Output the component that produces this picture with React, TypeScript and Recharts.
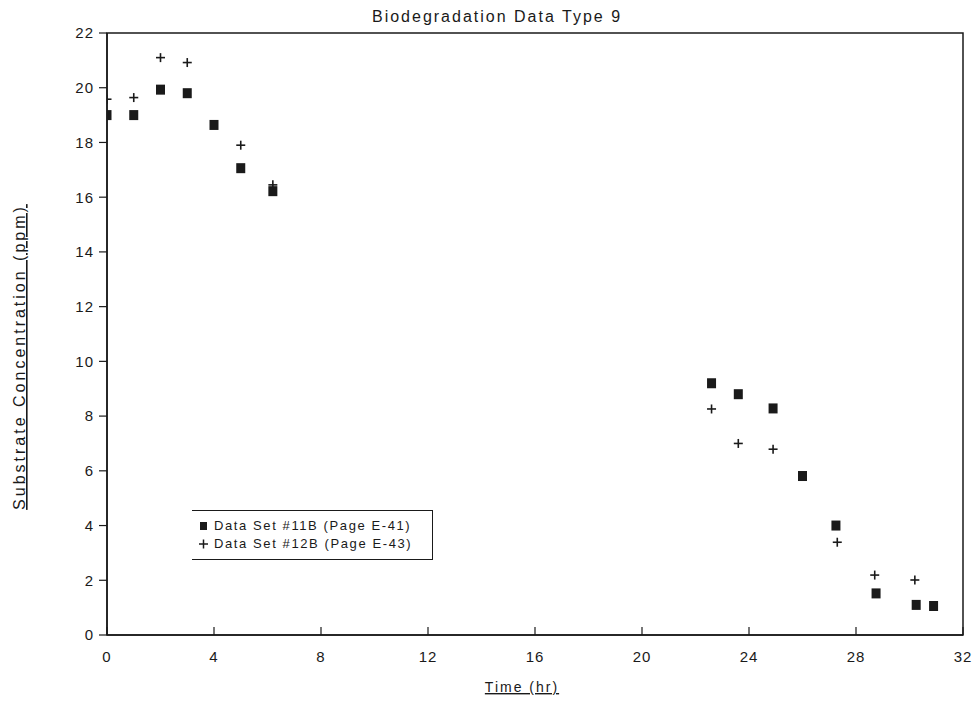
import React from "react";
import {
  ScatterChart,
  Scatter,
  XAxis,
  YAxis,
  ReferenceArea,
  Legend,
} from "recharts";

const set11B_x = [0, 1, 2, 3, 4, 5, 6.2, 22.6, 23.6, 24.9, 26, 27.25, 28.75, 30.25, 30.9];
const set11B_y = [19.0, 19.0, 19.93, 19.8, 18.64, 17.06, 16.22, 9.2, 8.8, 8.28, 5.81, 4.0, 1.52, 1.1, 1.06];

const set12B_x = [0, 1, 2, 3, 5, 6.2, 22.6, 23.6, 24.9, 27.3, 28.7, 30.2];
const set12B_y = [19.58, 19.64, 21.1, 20.92, 17.9, 16.45, 8.26, 7.0, 6.79, 3.39, 2.19, 2.01];

const xTicks = [0, 4, 8, 12, 16, 20, 24, 28, 32];
const yTicks = [0, 2, 4, 6, 8, 10, 12, 14, 16, 18, 20, 22];

const seriesNames = ["Data Set #11B (Page E-41)", "Data Set #12B (Page E-43)"];
const titleText = "Biodegradation Data Type 9";
const xLabel = "Time (hr)";
const yLabel = "Substrate Concentration (ppm)";

const data11 = set11B_x.map((x, i) => ({ x, y: set11B_y[i] }));
const data12 = set12B_x.map((x, i) => ({ x, y: set12B_y[i] }));

const INK = "#1a1a1a";
const FONT = "'Liberation Sans', Arial, sans-serif";

const SquareShape = (props: any) => {
  const { cx, cy } = props;
  if (cx == null || cy == null) return null;
  return <rect x={cx - 4.5} y={cy - 5} width={9} height={10} fill={INK} />;
};

const PlusShape = (props: any) => {
  const { cx, cy } = props;
  if (cx == null || cy == null) return null;
  return (
    <g stroke={INK} strokeWidth={1.6}>
      <line x1={cx - 4.5} y1={cy} x2={cx + 4.5} y2={cy} />
      <line x1={cx} y1={cy - 4.5} x2={cx} y2={cy + 4.5} />
    </g>
  );
};

const XTick = (props: any) => {
  const { x, y, payload } = props;
  return (
    <g>
      <line x1={x} y1={y} x2={x} y2={y - 8} stroke={INK} strokeWidth={1.2} />
      <text
        x={x}
        y={y + 27}
        textAnchor="middle"
        fontSize={15}
        fill={INK}
        fontFamily={FONT}
        letterSpacing={1}
      >
        {payload.value}
      </text>
    </g>
  );
};

const LegendBox = () => (
  <div
    style={{
      width: 241,
      height: 50,
      borderTop: `1.5px solid ${INK}`,
      borderBottom: `1.5px solid ${INK}`,
      borderRight: `1.5px solid ${INK}`,
      fontFamily: FONT,
      fontSize: 13,
      color: INK,
      boxSizing: "border-box",
      paddingTop: 6,
      paddingLeft: 6,
      lineHeight: "18px",
      letterSpacing: 1.6,
      whiteSpace: "nowrap",
    }}
  >
    <div style={{ display: "flex", alignItems: "center" }}>
      <svg width={12} height={12}>
        <rect x={2} y={2} width={7} height={8} fill={INK} />
      </svg>
      <span style={{ marginLeft: 4 }}>{seriesNames[0]}</span>
    </div>
    <div style={{ display: "flex", alignItems: "center" }}>
      <svg width={12} height={12}>
        <line x1={1} y1={6} x2={10} y2={6} stroke={INK} strokeWidth={1.5} />
        <line x1={5.5} y1={1.5} x2={5.5} y2={10.5} stroke={INK} strokeWidth={1.5} />
      </svg>
      <span style={{ marginLeft: 4 }}>{seriesNames[1]}</span>
    </div>
  </div>
);

export default function App() {
  return (
    <div style={{ position: "absolute", left: 0, top: 0, width: 980, height: 705, background: "#fff" }}>
      <ScatterChart
        width={980}
        height={705}
        margin={{ top: 33, right: 17, bottom: 40, left: 47 }}
      >
        <text
          x={497}
          y={22}
          textAnchor="middle"
          fontSize={16}
          fill={INK}
          fontFamily={FONT}
          letterSpacing={2}
        >
          {titleText}
        </text>
        <text
          x={522}
          y={692}
          textAnchor="middle"
          fontSize={14}
          fill={INK}
          fontFamily={FONT}
          letterSpacing={2}
          textDecoration="underline"
        >
          {xLabel}
        </text>
        <text
          x={0}
          y={0}
          transform="translate(25, 357) rotate(-90)"
          textAnchor="middle"
          fontSize={16}
          fill={INK}
          fontFamily={FONT}
          letterSpacing={3}
          textDecoration="underline"
        >
          {yLabel}
        </text>
        <XAxis
          type="number"
          dataKey="x"
          domain={[0, 32]}
          ticks={xTicks}
          height={30}
          tickSize={0}
          tickMargin={0}
          tickLine={false}
          axisLine={{ stroke: INK, strokeWidth: 1.5 }}
          tick={<XTick />}
          allowDataOverflow
        />
        <YAxis
          type="number"
          dataKey="y"
          domain={[0, 22]}
          ticks={yTicks}
          width={60}
          tickSize={8}
          tickMargin={5}
          tickLine={{ stroke: INK, strokeWidth: 1.2 }}
          axisLine={{ stroke: INK, strokeWidth: 1.5 }}
          tick={{ fill: INK, fontSize: 15, fontFamily: FONT, letterSpacing: 1 }}
          allowDataOverflow
        />
        <ReferenceArea
          x1={0}
          x2={32}
          y1={0}
          y2={22}
          fill="none"
          stroke={INK}
          strokeWidth={1.5}
          ifOverflow="visible"
        />
        <Legend
          layout="vertical"
          align="center"
          verticalAlign="middle"
          content={<LegendBox />}
          wrapperStyle={{ left: 192, top: 510, width: 241, height: 50 }}
        />
        <Scatter
          name={seriesNames[0]}
          data={data11}
          shape={<SquareShape />}
          isAnimationActive={false}
        />
        <Scatter
          name={seriesNames[1]}
          data={data12}
          shape={<PlusShape />}
          isAnimationActive={false}
        />
      </ScatterChart>
    </div>
  );
}
